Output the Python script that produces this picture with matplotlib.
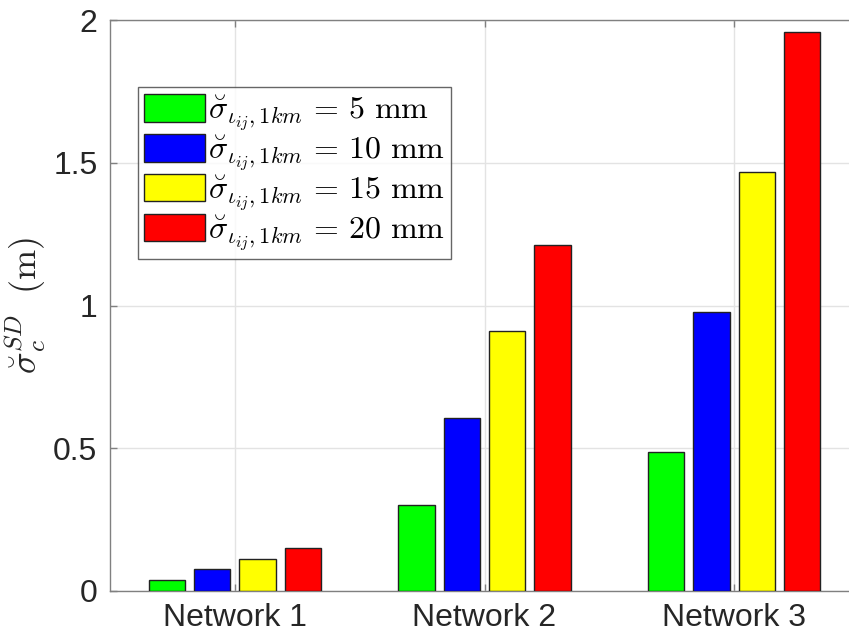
import numpy as np
import matplotlib
matplotlib.use('Agg')
import matplotlib.pyplot as plt

plt.rcParams.update({
    'font.family': ['Liberation Sans', 'DejaVu Sans'],
    'mathtext.fontset': 'cm',
    'font.size': 23,
})

networks = ['Network 1', 'Network 2', 'Network 3']
sigma_mm = [5, 10, 15, 20]
colors = ['#00ff00', '#0000ff', '#ffff00', '#ff0000']

# sigma_c^SD (m) per network, one list per sigma_1km value
sd_5mm = [0.038, 0.302, 0.488]
sd_10mm = [0.077, 0.606, 0.976]
sd_15mm = [0.112, 0.909, 1.468]
sd_20mm = [0.151, 1.213, 1.957]
series = [sd_5mm, sd_10mm, sd_15mm, sd_20mm]

fig = plt.figure(figsize=(8.49, 6.42), dpi=100)
# axes box runs a little past the right edge of the image, like the reference
ax = fig.add_axes([110 / 849, 51 / 642, 749 / 849, 571 / 642])

x = np.arange(1, len(networks) + 1)
n = len(series)
group_w = min(0.8, n / (n + 1.5))
slot = group_w / n
for i, (vals, c, s) in enumerate(zip(series, colors, sigma_mm)):
    off = (i - (n - 1) / 2) * slot
    ax.bar(x + off, vals, width=slot * 0.8, color=c, edgecolor='#222222',
           linewidth=1.0, zorder=3,
           label=r'$\breve{\sigma}_{\iota_{ij},1km}\,=\,%d\ \mathrm{mm}$' % s)

ax.set_xlim(0.5, 3.5)
ax.set_ylim(0, 2)
ax.set_xticks(x)
ax.set_xticklabels(networks)
ax.set_yticks([0, 0.5, 1, 1.5, 2])
ax.set_yticklabels(['0', '0.5', '1', '1.5', '2'])
ax.grid(True, color='#e3e3e3', linewidth=1.0, zorder=0)
ax.set_axisbelow(True)
ax.tick_params(direction='in', length=5, width=1, colors='#808080',
               labelcolor='#262626', top=True, pad=9, labelsize=23)
for sp in ax.spines.values():
    sp.set_color('#808080')
    sp.set_linewidth(1.0)

ax.set_ylabel(r'$\breve{\sigma}_c^{SD}\;\ \mathrm{(m)}$', fontsize=26, color='#262626',
              labelpad=4)

leg = ax.legend(loc='upper left', bbox_to_anchor=(138 / 849, 1 - 87 / 642),
                bbox_transform=fig.transFigure, fontsize=23, frameon=True,
                fancybox=False, edgecolor='#404040', borderaxespad=0,
                handlelength=1.9, handleheight=0.95, handletextpad=0.1,
                labelspacing=0.0, borderpad=0.2)
leg.get_frame().set_linewidth(1.0)

fig.savefig('out.png', dpi=100)
